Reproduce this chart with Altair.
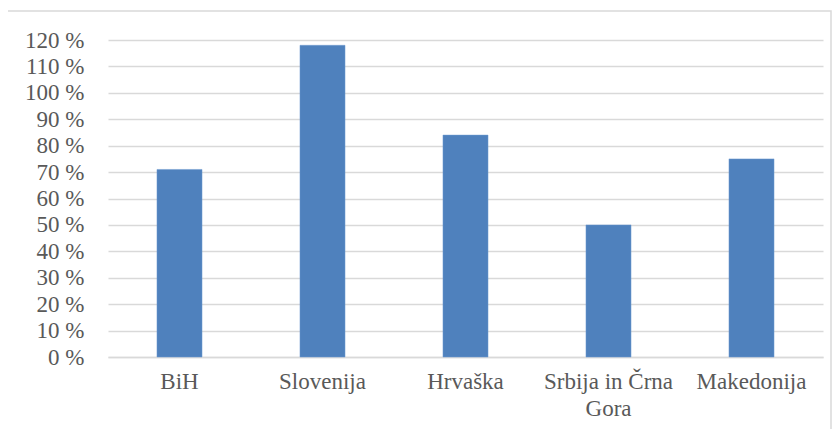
import altair as alt
import pandas as pd

categories = ["BiH", "Slovenija", "Hrvaška", "Srbija in Črna Gora", "Makedonija"]
values = [71, 118, 84, 50, 75]
y_ticks = [0, 10, 20, 30, 40, 50, 60, 70, 80, 90, 100, 110, 120]

df = pd.DataFrame({"country": categories, "value": values})

FONT = "Liberation Serif"
GRAY = "#595959"
GRID = "#d9d9d9"

bars = alt.Chart(df).mark_bar(color="#4f81bd", stroke="#6f9ad0", strokeWidth=0.5).encode(
    x=alt.X("country:N", sort=categories,
            scale=alt.Scale(paddingInner=0.685, paddingOuter=0.3425),
            axis=alt.Axis(title=None, labelAngle=0,
                          labelPadding=13, ticks=False,
                          domainColor=GRID, domainWidth=1.5, labelLineHeight=27,
                          labelExpr="datum.label == 'Srbija in Črna Gora' ? ['Srbija in Črna', 'Gora'] : datum.label")),
    y=alt.Y("value:Q", scale=alt.Scale(domain=[0, 120], nice=False),
            axis=alt.Axis(title=None, values=y_ticks, labelExpr="datum.value + ' %'",
                          labelPadding=24, ticks=False, domain=False,
                          gridColor=GRID, gridWidth=1.5)),
)

frame = alt.Chart(pd.DataFrame({"a": [0]})).mark_rect(
    fill="transparent", stroke=GRID, strokeWidth=1.5
).encode(
    x=alt.value(-101), x2=alt.value(723), y=alt.value(-29), y2=alt.value(420)
)

chart = alt.layer(frame, bars).properties(
    width=715, height=317,
    padding={"left": 100, "top": 32, "right": 9, "bottom": 72},
    autosize=alt.AutoSizeParams(type="none"),
).configure(font=FONT).configure_axis(
    labelFont=FONT, labelFontSize=23, labelColor=GRAY
).configure_view(stroke=None)

chart.save("out.html", embed_options={"renderer": "svg", "actions": False})
